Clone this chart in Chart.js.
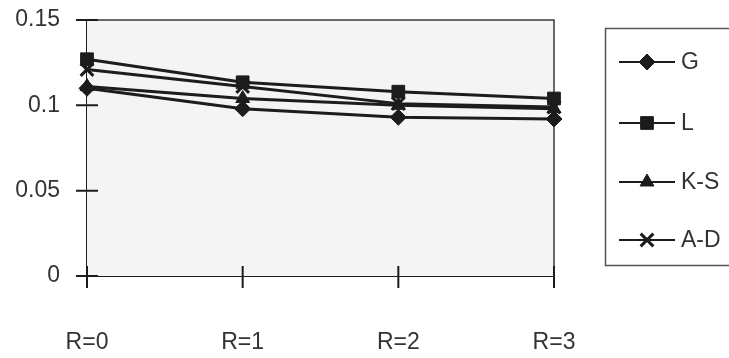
<!DOCTYPE html>
<html>
<head>
<meta charset="utf-8">
<script src="https://cdn.jsdelivr.net/npm/chart.js@4"></script>
<style>
  html, body { margin: 0; padding: 0; background: #fff; }
  canvas { display: block; }
</style>
</head>
<body>
<canvas id="rChart" width="729" height="358"></canvas>
<script>
// Categories and series values
const categories = ['R=0', 'R=1', 'R=2', 'R=3'];
const gValues  = [0.110, 0.098, 0.093, 0.092];
const lValues  = [0.127, 0.1135, 0.108, 0.104];
const ksValues = [0.111, 0.104, 0.100, 0.098];
const adValues = [0.121, 0.111, 0.101, 0.099];
const seriesLabels = ['G', 'L', 'K-S', 'A-D'];

const INK = '#1c1c1c';
const FONT = '"Liberation Sans", Arial, sans-serif';

// marker radius per point style
const markerSize = { rectRot: 8, rect: 9, triangle: 8, crossRot: 9 };

function makeSeries(label, values, style) {
    return {
        label: label,
        data: values,
        borderColor: INK,
        backgroundColor: INK,
        borderWidth: 3,
        pointStyle: style,
        pointRadius: markerSize[style],
        pointBorderWidth: style === 'crossRot' ? 3 : 1,
        pointBorderColor: INK,
        pointBackgroundColor: INK,
        tension: 0,
        fill: false
    };
}

// Plot background, frame and ticks that cross the axes
const framePlugin = {
    id: 'frame',
    beforeDatasetsDraw(chart) {
        const { ctx, chartArea: a } = chart;
        ctx.save();
        ctx.fillStyle = '#f4f4f4';
        ctx.fillRect(a.left, a.top, a.right - a.left, a.bottom - a.top);
        ctx.strokeStyle = '#3a3a3a';
        ctx.lineWidth = 1.5;
        ctx.beginPath();
        ctx.moveTo(a.left, a.top);
        ctx.lineTo(a.right, a.top);
        ctx.lineTo(a.right, a.bottom);
        ctx.stroke();

        ctx.strokeStyle = INK;
        ctx.lineWidth = 2;
        ctx.beginPath();
        const y = chart.scales.y;
        y.ticks.forEach(t => {
            const py = y.getPixelForValue(t.value);
            ctx.moveTo(a.left - 11, py);
            ctx.lineTo(a.left + 11, py);
        });
        const x = chart.scales.x;
        categories.forEach((c, i) => {
            const px = x.getPixelForValue(i);
            ctx.moveTo(px, a.bottom - 10);
            ctx.lineTo(px, a.bottom + 12);
        });
        ctx.stroke();
        ctx.restore();
    }
};

// Boxed legend on the right
const legendPlugin = {
    id: 'boxLegend',
    afterDraw(chart) {
        const ctx = chart.ctx;
        ctx.save();
        ctx.strokeStyle = '#555';
        ctx.lineWidth = 1.5;
        ctx.strokeRect(605.5, 28.5, 140, 237);
        ctx.font = '23px ' + FONT;
        ctx.textBaseline = 'middle';
        const rows = [62, 123, 182, 240];
        chart.data.datasets.forEach((ds, i) => {
            const cy = rows[i];
            ctx.strokeStyle = INK;
            ctx.lineWidth = 2;
            ctx.beginPath();
            ctx.moveTo(619, cy);
            ctx.lineTo(675, cy);
            ctx.stroke();
            ctx.fillStyle = INK;
            ctx.lineWidth = ds.pointBorderWidth;
            Chart.helpers.drawPoint(ctx, {
                pointStyle: ds.pointStyle,
                radius: ds.pointRadius,
                rotation: 0,
                borderWidth: ds.pointBorderWidth
            }, 647, cy);
            ctx.fillStyle = '#333';
            ctx.fillText(ds.label, 681, cy + 1);
        });
        ctx.restore();
    }
};

new Chart(document.getElementById('rChart'), {
    type: 'line',
    data: {
        labels: categories,
        datasets: [
            makeSeries(seriesLabels[0], gValues, 'rectRot'),
            makeSeries(seriesLabels[1], lValues, 'rect'),
            makeSeries(seriesLabels[2], ksValues, 'triangle'),
            makeSeries(seriesLabels[3], adValues, 'crossRot')
        ]
    },
    options: {
        responsive: false,
        maintainAspectRatio: false,
        animation: false,
        devicePixelRatio: 1,
        layout: { padding: { top: 20, right: 175, left: 0, bottom: 0 } },
        plugins: {
            legend: { display: false },
            title: { display: false },
            tooltip: { enabled: false }
        },
        scales: {
            x: {
                offset: false,
                grid: { display: false, drawTicks: false },
                border: { color: INK, width: 2 },
                ticks: {
                    padding: 53,
                    color: '#333',
                    font: { family: FONT, size: 23 },
                    maxRotation: 0
                },
                afterFit(scale) {
                    scale.height = 82;
                    scale.paddingLeft = 0;
                    scale.paddingRight = 0;
                }
            },
            y: {
                min: 0,
                max: 0.15,
                grid: { display: false, drawTicks: false },
                border: { color: INK, width: 2 },
                ticks: {
                    stepSize: 0.05,
                    padding: 27,
                    color: '#333',
                    font: { family: FONT, size: 23 },
                    callback: v => String(Math.round(v * 100) / 100)
                },
                afterFit(scale) {
                    scale.width = 87;
                    scale.paddingTop = 0;
                    scale.paddingBottom = 0;
                }
            }
        }
    },
    plugins: [framePlugin, legendPlugin]
});
</script>
</body>
</html>
